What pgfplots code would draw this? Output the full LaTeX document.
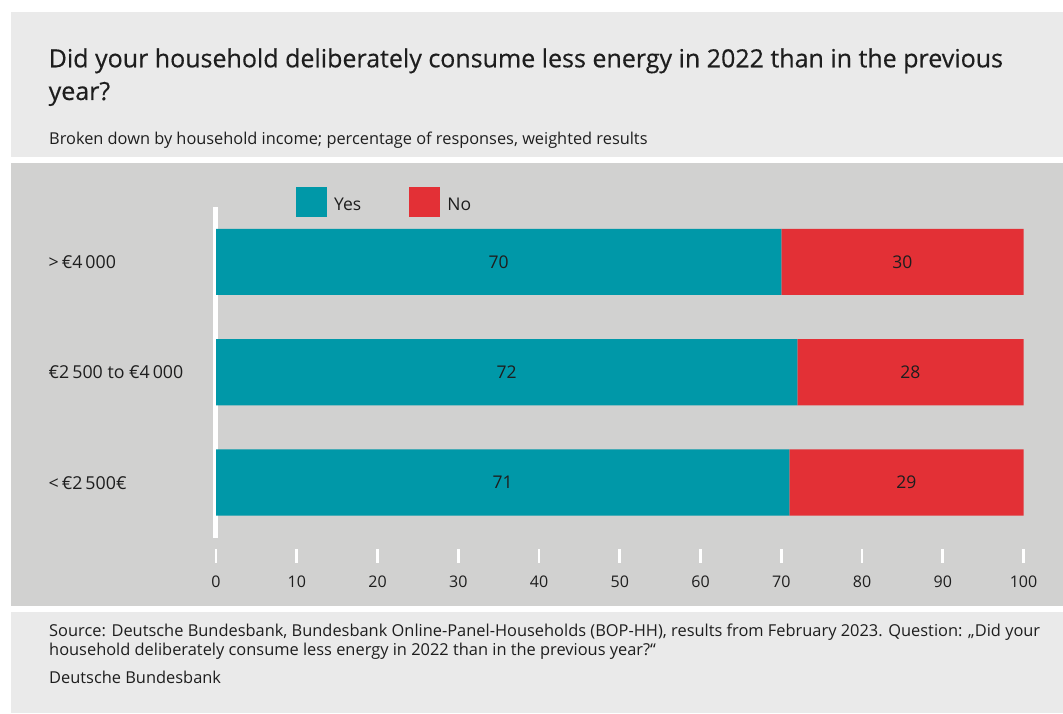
\documentclass[border=0pt]{standalone}
\usepackage{fontspec}
\setmainfont{Open Sans}
\newfontfamily\titlefont{Open Sans}[FakeBold=0.4]
\usepackage{pgfplots}
\pgfplotsset{compat=1.18}
\definecolor{myteal}{HTML}{0098A8}
\definecolor{myred}{HTML}{E33036}
\definecolor{panelA}{HTML}{EAEAEA}
\definecolor{panelB}{HTML}{D1D1D0}
\definecolor{txt}{HTML}{1E1E1E}
\newcommand\fs{\fontsize{16}{18}\selectfont}
\newcommand\fsub{\fontsize{16.35}{18}\selectfont}
\newcommand\ffoot{\fontsize{16.4}{18}\selectfont}
\newcommand\fcat{\fontsize{17.8}{20}\selectfont}
\newcommand\fval{\fontsize{17.5}{20}\selectfont}
\newcommand\ft{\titlefont\fontsize{25}{28}\selectfont}
\begin{document}
\begin{tikzpicture}
\fill[white] (0pt,0pt) rectangle (1063pt,713pt);
\fill[panelA] (11pt,556pt) rectangle (1063pt,701pt);
\fill[panelB] (11pt,107pt) rectangle (1063pt,550pt);
\fill[panelA] (11pt,0pt) rectangle (1063pt,101pt);
\node[anchor=base west, inner sep=0pt, font=\ft, text=txt] at (48.5pt,645.7pt) {Did your household deliberately consume less energy in 2022 than in the previous};
\node[anchor=base west, inner sep=0pt, font=\ft, text=txt] at (48.5pt,613pt) {year?};
\node[anchor=base west, inner sep=0pt, font=\fsub, text=txt] at (49pt,568pt) {Broken down by household income; percentage of responses, weighted results};
\node[anchor=base west, inner sep=0pt, font=\ffoot, text=txt] at (49pt,76.3pt) {Source: Deutsche Bundesbank, Bundesbank Online-Panel-Households (BOP-HH), results from February 2023. Question: „Did your};
\node[anchor=base west, inner sep=0pt, font=\ffoot, text=txt] at (49pt,58pt) {household deliberately consume less energy in 2022 than in the previous year?“};
\node[anchor=base west, inner sep=0pt, font=\ffoot, text=txt] at (49pt,29.7pt) {Deutsche Bundesbank};
\begin{axis}[
  at={(216pt,175.3pt)}, anchor=south west,
  scale only axis, width=807.5pt, height=331pt,
  xmin=0, xmax=100, ymin=-0.5, ymax=2.5,
  xbar stacked, bar width=0.6,
  axis line style={draw=none},
  major tick length=0pt, tick style={draw=none},
  xtick={0,10,20,30,40,50,60,70,80,90,100},
  ytick={0,1,2},
  yticklabels={{<\,€2\,500€},{€2\,500 to €4\,000},{>\,€4\,000}},
  xticklabel style={anchor=base, inner sep=0pt, yshift=-49.4pt, font=\fs, text=txt},
  yticklabel style={anchor=base west, inner sep=0pt, xshift=-167.5pt, yshift=-6.6pt, font=\fcat, text=txt},
  /pgf/number format/assume math mode=true,
  clip=false,
  point meta=explicit symbolic,
  nodes near coords={\pgfplotspointmeta},
  every node near coord/.append style={anchor=center, inner sep=0pt, font=\fval, text=txt},
  legend style={draw=none, fill=none, inner sep=0pt, outer sep=0pt,
    at={(0.0991,1.0604)}, anchor=north west, font=\fval, text=txt,
    nodes={inner sep=0pt},
    /tikz/every odd column/.append style={column sep=7.6pt},
    /tikz/every even column/.append style={column sep=48pt}},
  legend columns=2,
  legend image code/.code={\fill[#1,draw=none] (0pt,-12.7pt) rectangle (30.5pt,17.9pt);},
]
\addplot[fill=myteal, draw=none] coordinates {(71,0) [71] (72,1) [72] (70,2) [70]};
\addplot[fill=myred, draw=none] coordinates {(29,0) [29] (28,1) [28] (30,2) [30]};
\legend{Yes,No}
\pgfplotsinvokeforeach{0,10,20,30,40,50,60,70,80,90,100}{
  \draw[white, line width=2.7pt] (axis cs:#1,-0.602) -- (axis cs:#1,-0.729);
}
\draw[white, line width=4.5pt] ([xshift=-0.6pt]axis cs:0,-0.5) -- ([xshift=-0.6pt]axis cs:0,2.498);
\end{axis}
\end{tikzpicture}
\end{document}
